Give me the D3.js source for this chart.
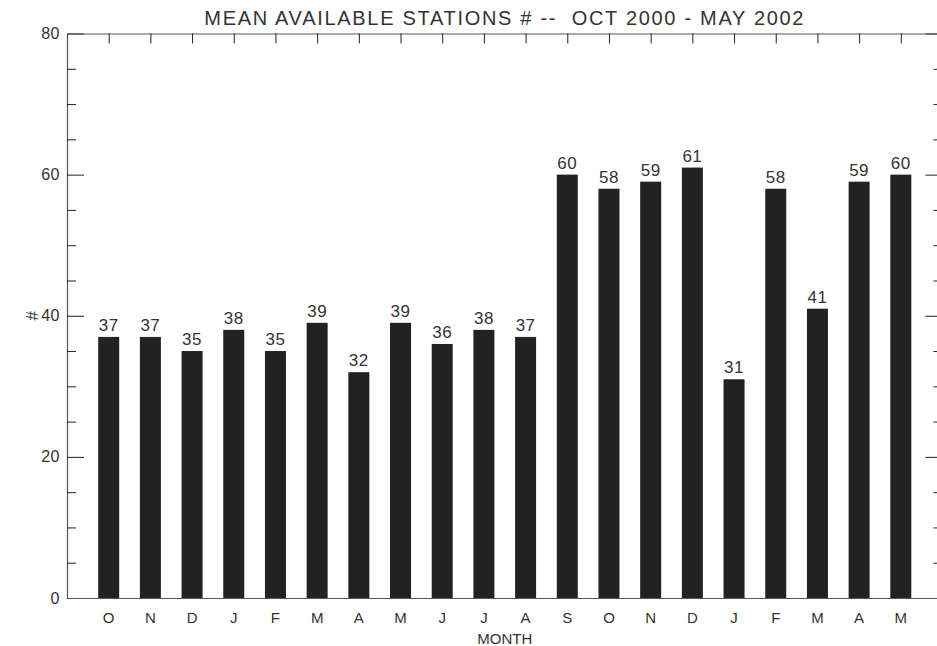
<!DOCTYPE html>
<html>
<head>
<meta charset="utf-8">
<script src="https://cdn.jsdelivr.net/npm/d3@7"></script>
<style>
  html, body { margin: 0; padding: 0; background: #fff; }
  svg { display: block; }
</style>
</head>
<body>
<svg id="chart"></svg>
<script>
// Data
const months = ["O", "N", "D", "J", "F", "M", "A", "M", "J", "J", "A", "S", "O", "N", "D", "J", "F", "M", "A", "M"];
const stations = [37, 37, 35, 38, 35, 39, 32, 39, 36, 38, 37, 60, 58, 59, 61, 31, 58, 41, 59, 60];
const yMajorTicks = [0, 20, 40, 60, 80];
const yMinorTicks = [5, 10, 15, 25, 30, 35, 45, 50, 55, 65, 70, 75];
const title = "MEAN AVAILABLE STATIONS # --  OCT 2000 - MAY 2002";

const width = 937;
const height = 646;
const marginTop = 33.5;
const marginLeft = 67;
const marginRight = -5.5;
const marginBottom = 48;
const font = "'Liberation Sans', 'DejaVu Sans', sans-serif";
const ink = "#222";
const textInk = "#333";

const svg = d3.select("#chart")
  .attr("width", width)
  .attr("height", height)
  .attr("viewBox", [0, 0, width, height])
  .style("overflow", "hidden");

// Scales: bars sit on integer positions 1..20, axis spans 0..21
const x = d3.scaleLinear()
  .domain([0, months.length + 1])
  .range([marginLeft, width - marginRight]);

const y = d3.scaleLinear()
  .domain([0, 80])
  .range([height - marginBottom, marginTop]);

const idx = d3.range(1, months.length + 1);
const barWidth = 21;

// Bars
svg.append("g")
  .attr("fill", ink)
  .selectAll()
  .data(stations)
  .join("rect")
  .attr("x", (d, i) => x(i + 1) - barWidth / 2)
  .attr("y", (d) => y(d))
  .attr("width", barWidth)
  .attr("height", (d) => y(0) - y(d));

// Value labels
svg.append("g")
  .attr("fill", textInk)
  .attr("text-anchor", "middle")
  .style("font", `17px ${font}`)
  .style("letter-spacing", "0.5px")
  .selectAll()
  .data(stations)
  .join("text")
  .attr("x", (d, i) => x(i + 1))
  .attr("y", (d) => y(d) - 6)
  .text((d) => d);

// Axes (box style)
const axisStyle = (g) => {
  g.select(".domain").attr("stroke", "#555").attr("stroke-width", 1.2);
  g.selectAll(".tick line").attr("stroke", ink).attr("stroke-width", 1);
};

// left axis
svg.append("g")
  .attr("transform", `translate(${marginLeft},0)`)
  .call(d3.axisRight(y).tickValues(yMajorTicks).tickSize(17).tickSizeOuter(0).tickFormat(""))
  .call(axisStyle);
svg.append("g")
  .attr("transform", `translate(${marginLeft},0)`)
  .call(d3.axisRight(y).tickValues(yMinorTicks).tickSize(9).tickSizeOuter(0).tickFormat(""))
  .call(axisStyle)
  .call((g) => g.select(".domain").remove());
// left tick labels
svg.append("g")
  .attr("fill", textInk)
  .attr("text-anchor", "end")
  .style("font", `16px ${font}`)
  .style("letter-spacing", "0.5px")
  .selectAll()
  .data(yMajorTicks)
  .join("text")
  .attr("x", marginLeft - 7)
  .attr("y", (d) => y(d))
  .attr("dy", "0.35em")
  .text((d) => d);

// right axis
const xr = width - marginRight;
svg.append("g")
  .attr("transform", `translate(${xr},0)`)
  .call(d3.axisLeft(y).tickValues(yMajorTicks).tickSize(17).tickSizeOuter(0).tickFormat(""))
  .call(axisStyle);
svg.append("g")
  .attr("transform", `translate(${xr},0)`)
  .call(d3.axisLeft(y).tickValues(yMinorTicks).tickSize(9).tickSizeOuter(0).tickFormat(""))
  .call(axisStyle)
  .call((g) => g.select(".domain").remove());

// top axis
svg.append("g")
  .attr("transform", `translate(0,${marginTop})`)
  .call(d3.axisBottom(x).tickValues(idx).tickSize(10).tickSizeOuter(0).tickFormat(""))
  .call(axisStyle);

// bottom axis
svg.append("g")
  .attr("transform", `translate(0,${y(0)})`)
  .call(d3.axisTop(x).tickValues(idx).tickSize(0).tickSizeOuter(0).tickFormat(""))
  .call(axisStyle);

// month labels
svg.append("g")
  .attr("fill", textInk)
  .attr("text-anchor", "middle")
  .style("font", `15px ${font}`)
  .selectAll()
  .data(months)
  .join("text")
  .attr("x", (d, i) => x(i + 1))
  .attr("y", y(0) + 25)
  .text((d) => d);

// axis titles
svg.append("text")
  .attr("x", (marginLeft + xr) / 2)
  .attr("y", y(0) + 46)
  .attr("text-anchor", "middle")
  .attr("fill", textInk)
  .style("font", `15px ${font}`)
  .text("MONTH");

svg.append("text")
  .attr("transform", `translate(38,${(y(0) + y(80)) / 2}) rotate(-90)`)
  .attr("text-anchor", "middle")
  .attr("fill", textInk)
  .style("font", `17px ${font}`)
  .text("#");

svg.append("text")
  .attr("x", (marginLeft + xr) / 2)
  .attr("y", 25)
  .attr("text-anchor", "middle")
  .attr("fill", textInk)
  .style("font", `20px ${font}`)
  .style("letter-spacing", "1.7px")
  .style("white-space", "pre")
  .attr("xml:space", "preserve")
  .text(title);
</script>
</body>
</html>
